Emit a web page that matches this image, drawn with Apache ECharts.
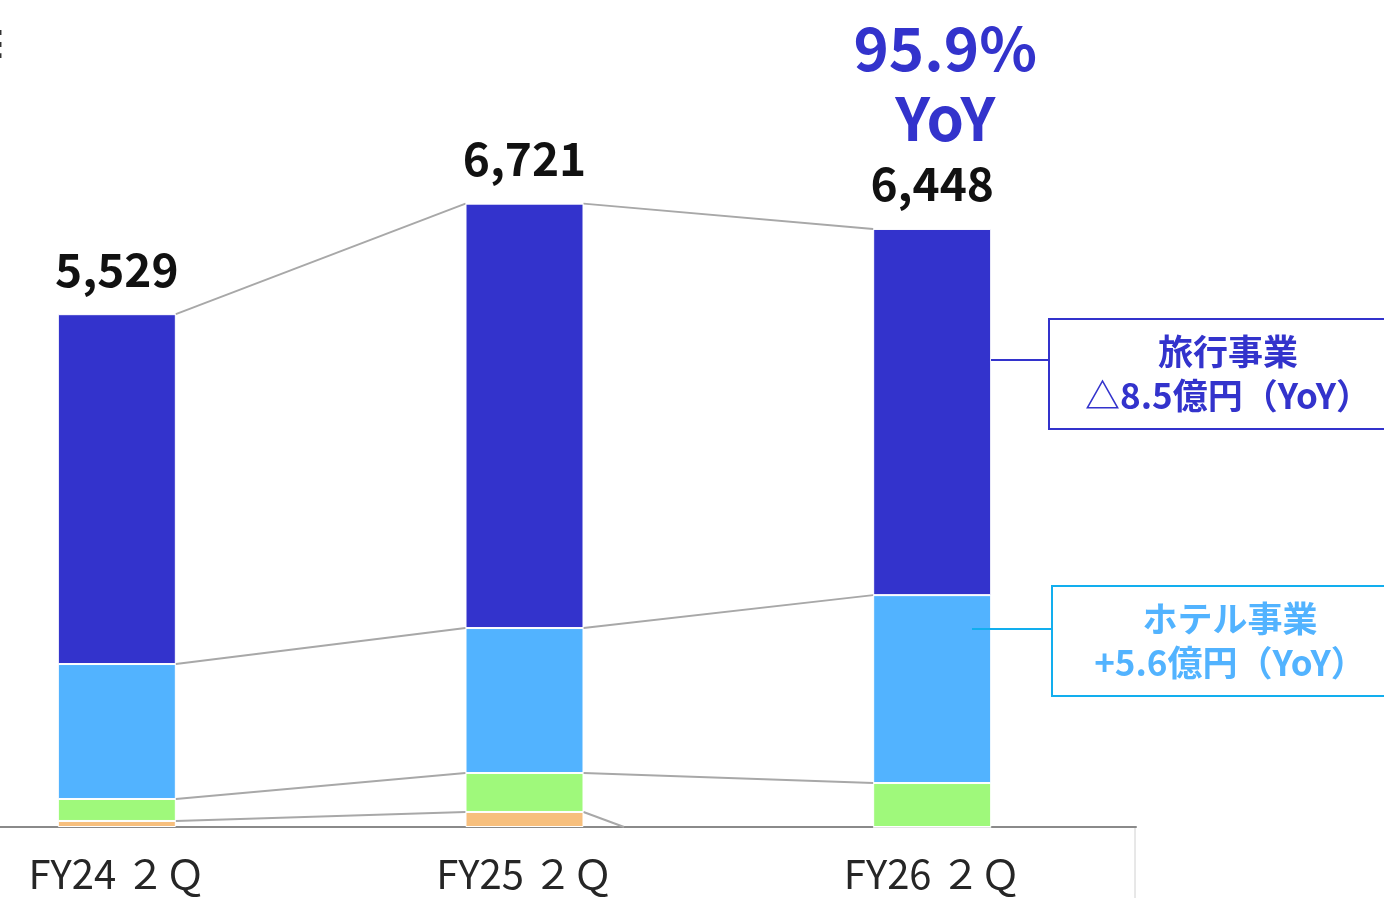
<!DOCTYPE html>
<html>
<head>
    <meta charset="utf-8">
    <title>セグメント別推移</title>
    <style>
        html, body { margin: 0; padding: 0; background: #fff; }
        #chart { width: 1384px; height: 898px; }
    </style>
    <script src="https://cdn.jsdelivr.net/npm/echarts@6/dist/echarts.min.js"></script>
</head>
<body>
    <div id="chart"></div>
    <script>
        // 単位：百万円
        const categories = ['FY24 ２Ｑ', 'FY25 ２Ｑ', 'FY26 ２Ｑ'];
        const otherVals = [65, 162, 0];
        const subVals = [237, 420, 474];
        const hotelVals = [1455, 1563, 2026];
        const travelVals = [3772, 4576, 3948];
        const totals = [5529, 6721, 6448];
        const yoyText = ['95.9%', 'YoY'];
        const travelNote = ['旅行事業', '△8.5億円（YoY）'];
        const hotelNote = ['ホテル事業', '+5.6億円（YoY）'];

        const FONT = "'Noto Sans CJK JP', 'Noto Sans', sans-serif";
        const barWidth = 118;
        const colors = ['#F7BF7D', '#9FF97B', '#52B3FF', '#3333CC'];

        const segs = [otherVals, subVals, hotelVals, travelVals];
        const cum = [];
        segs.forEach((s, L) => {
            cum.push(s.map((v, i) => v + (L > 0 ? cum[L - 1][i] : 0)));
        });

        const fmt = n => String(n).replace(/\B(?=(\d{3})+(?!\d))/g, ',');

        const chart = echarts.init(document.getElementById('chart'));

        function barSeries(name, vals, idx) {
            return {
                name: name,
                type: 'bar',
                stack: 'all',
                data: vals,
                barWidth: barWidth,
                itemStyle: { color: colors[idx], borderColor: '#fff', borderWidth: 1 },
                emphasis: { disabled: true }
            };
        }

        const travel = barSeries('旅行事業', travelVals, 3);
        travel.label = {
            show: true,
            position: 'top',
            distance: 14,
            fontFamily: FONT,
            formatter: p => {
                const t = '{tot|' + fmt(totals[p.dataIndex]) + '}';
                if (p.dataIndex === 2) {
                    return '{yoy|' + yoyText[0] + '}\n{yoy|' + yoyText[1] + '}\n' + t;
                }
                return t;
            },
            rich: {
                tot: { fontSize: 46, fontWeight: 'bold', color: '#111', lineHeight: 62, fontFamily: FONT },
                yoy: { fontSize: 60, fontWeight: 'bold', color: '#3333CC', lineHeight: 70,
                       padding: [0, 0, 0, 26], fontFamily: FONT }
            }
        };

        chart.setOption({
            animation: false,
            // 左端のカテゴリ帯は画面外まで伸びる
            grid: { left: -87, right: 248, top: 85, bottom: 71, outerBoundsMode: 'none' },
            xAxis: {
                type: 'category',
                data: categories,
                axisLine: { lineStyle: { color: '#8a8a8a', width: 2 } },
                axisTick: { show: false },
                axisLabel: { fontSize: 40, color: '#262626', margin: 27, fontFamily: FONT }
            },
            yAxis: { type: 'value', min: 0, max: 8000, show: false },
            series: [
                barSeries('その他', otherVals, 0),
                barSeries('その他事業', subVals, 1),
                barSeries('ホテル事業', hotelVals, 2),
                travel,
                {
                    type: 'custom',
                    z: 1,
                    silent: true,
                    data: [[0, 0], [1, 0]],
                    encode: { x: 0, y: 1 },
                    renderItem: (params, api) => {
                        const i = api.value(0);
                        const half = barWidth / 2;
                        const base = api.coord([i, 0])[1];
                        const children = cum.map((c, L) => {
                            const p1 = api.coord([i, c[i]]);
                            const p2 = api.coord([i + 1, c[i + 1]]);
                            const x1 = p1[0] + half;
                            let x2 = p2[0] - half;
                            let y2 = p2[1];
                            if (segs[L][i + 1] === 0) {
                                // 消えた区分は軸まで落とす
                                y2 = base;
                                x2 = x1 + (base - p1[1]) * 2.7;
                            }
                            return {
                                type: 'line',
                                shape: { x1: x1, y1: p1[1], x2: x2, y2: y2 },
                                style: { stroke: '#a8a8a8', lineWidth: 2 }
                            };
                        });
                        return { type: 'group', children: children };
                    }
                }
            ],
            graphic: [
                { type: 'text', x: 9, y: 44, z: 10,
                  style: { text: '≡', font: 'bold 52px ' + FONT, fill: '#333',
                           align: 'right', verticalAlign: 'middle' } },
                { type: 'line', shape: { x1: 1135, y1: 828, x2: 1135, y2: 898 },
                  style: { stroke: '#d0d0d0', lineWidth: 1 } },
                // 旅行事業
                { type: 'line', z: 10, shape: { x1: 991, y1: 360, x2: 1049, y2: 360 },
                  style: { stroke: '#3333CC', lineWidth: 2 } },
                { type: 'rect', z: 10, shape: { x: 1049, y: 319, width: 400, height: 110 },
                  style: { fill: '#fff', stroke: '#3333CC', lineWidth: 2 } },
                { type: 'text', z: 11, x: 1228, y: 374,
                  style: { text: travelNote.join('\n'), font: 'bold 35px ' + FONT, fill: '#3333CC',
                           align: 'center', verticalAlign: 'middle', lineHeight: 44 } },
                // ホテル事業
                { type: 'line', z: 10, shape: { x1: 972, y1: 629, x2: 1052, y2: 629 },
                  style: { stroke: '#12AEEE', lineWidth: 2 } },
                { type: 'rect', z: 10, shape: { x: 1052, y: 586, width: 400, height: 110 },
                  style: { fill: '#fff', stroke: '#12AEEE', lineWidth: 2 } },
                { type: 'text', z: 11, x: 1230, y: 641,
                  style: { text: hotelNote.join('\n'), font: 'bold 35px ' + FONT, fill: '#52B3FF',
                           align: 'center', verticalAlign: 'middle', lineHeight: 44 } }
            ]
        });
    </script>
</body>
</html>
